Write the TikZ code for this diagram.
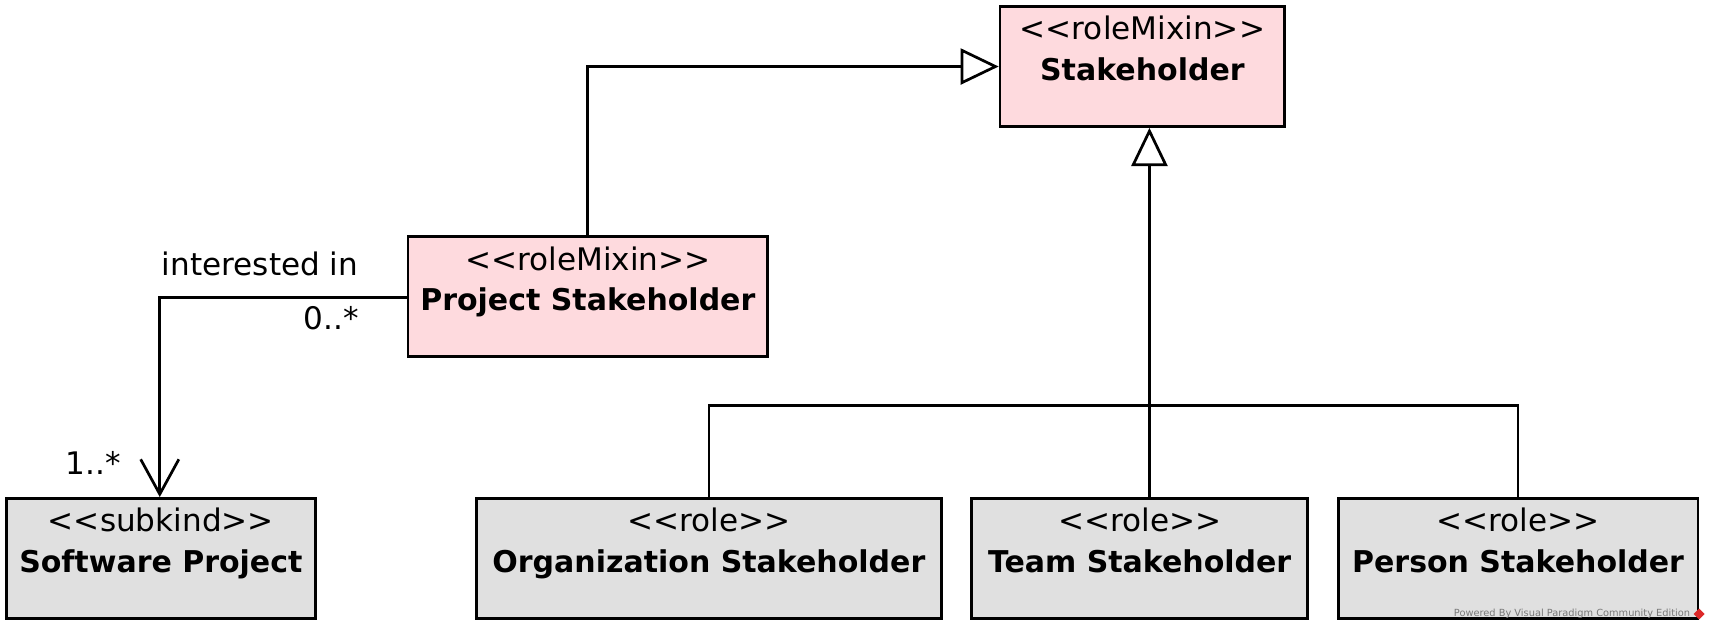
\documentclass[tikz,border=0pt]{standalone}
\usepackage{fontspec}
\setmainfont{DejaVu Sans}[Ligatures=TeXOff]
\usetikzlibrary{arrows.meta,calc}
\definecolor{pinkfill}{RGB}{254,218,222}
\definecolor{greyfill}{RGB}{224,224,224}
\definecolor{wmgrey}{RGB}{120,120,120}
\definecolor{wmred}{RGB}{220,40,40}
\tikzset{
  ubox/.style={draw=black, line width=2.5pt, rectangle, minimum height=110pt, inner sep=0pt},
  pinkbox/.style={ubox, fill=pinkfill},
  greybox/.style={ubox, fill=greyfill},
  stereo/.style={font=\fontsize{28.5}{32}\selectfont, inner sep=0pt, anchor=base},
  cname/.style={font=\fontsize{27.5}{32}\selectfont\bfseries, inner sep=0pt, anchor=base},
  lbl/.style={font=\fontsize{28.5}{32}\selectfont, inner sep=0pt, anchor=base},
  conn/.style={line width=2.5pt, line join=miter},
  gen/.style={conn, -{Triangle[open, length=35pt, width=33pt, fill=white]}},
  assoc/.style={conn, -{Straight Barb[length=32pt, width=35pt]}},
}
\begin{document}
\begin{tikzpicture}[x=1pt, y=-1pt]
\useasboundingbox (0,0) rectangle (1568,578);
% boxes
\node[pinkbox, minimum width=261pt] (sh) at (1047.5,61) {};
\node[stereo] (sh-s) at (1047.5,36.5) {<<roleMixin>>};
\node[cname] (sh-n) at (1047.5,74) {Stakeholder};

\node[pinkbox, minimum width=330pt] (ps) at (539,272) {};
\node[stereo] (ps-s) at (539,248) {<<roleMixin>>};
\node[cname] (ps-n) at (539,285) {Project Stakeholder};

\node[greybox, minimum width=283pt] (sp) at (147.5,512) {};
\node[stereo] (sp-s) at (147.5,487) {<<subkind>>};
\node[cname] (sp-n) at (147.5,525) {Software Project};

\node[greybox, minimum width=426pt] (os) at (650,512) {};
\node[stereo] (os-s) at (650,487) {<<role>>};
\node[cname] (os-n) at (650,525) {Organization Stakeholder};

\node[greybox, minimum width=308pt] (ts) at (1045,512) {};
\node[stereo] (ts-s) at (1045,487) {<<role>>};
\node[cname] (ts-n) at (1045,525) {Team Stakeholder};

\node[greybox, minimum width=330pt] (pe) at (1392,512) {};
\node[stereo] (pe-s) at (1392,487) {<<role>>};
\node[cname] (pe-n) at (1392,525) {Person Stakeholder};

% generalizations
\draw[gen] (ps.north) |- (sh.west);
\coordinate (spine) at (1054,372);
\draw[gen] (spine |- ts.north) -- (spine |- sh.south);
\draw[conn] (os.north) -- (os.north |- spine) -- (pe.north |- spine) -- (pe.north);

% association
\coordinate (bend) at (146.5,273);
\draw[assoc] (ps.west |- bend) -- (bend) -- (bend |- sp.north);
\node[lbl] (l-int) at (238.5,253) {interested in};
\node[lbl] (l-src) at (304,302) {0..*};
\node[lbl] (l-tgt) at (85.5,435) {1..*};

% watermark
\node[font=\fontsize{9}{10}\selectfont, text=wmgrey, anchor=east, inner sep=0pt] (wm) at (1550,563) {Powered By Visual Paradigm Community Edition};
\node[fill=wmred, shape=rectangle, rotate=45, minimum size=7pt, inner sep=0pt] (wmicon) at (1558,563) {};
\end{tikzpicture}
\end{document}
